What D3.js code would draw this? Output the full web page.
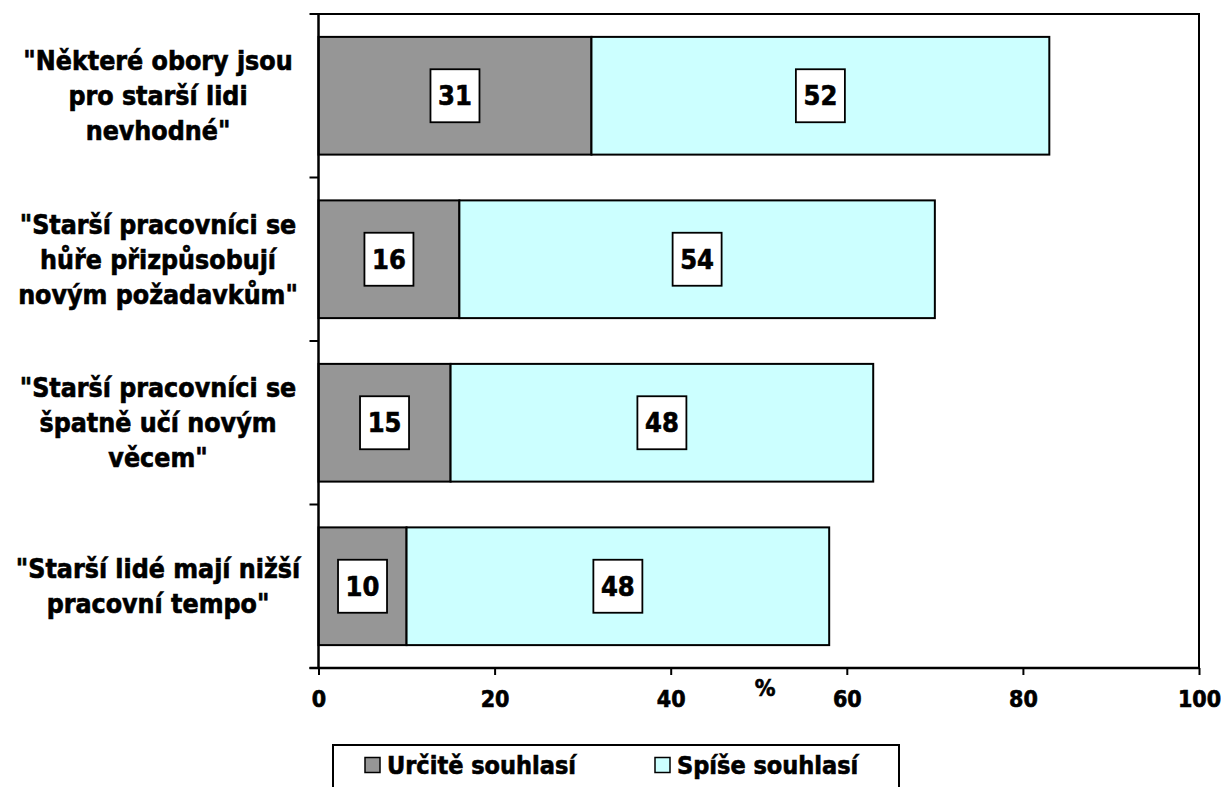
<!DOCTYPE html>
<html>
<head>
<meta charset="utf-8">
<script src="https://cdn.jsdelivr.net/npm/d3@7"></script>
<style>
  html, body { margin: 0; padding: 0; background: #fff; }
  svg text { font-family: "DejaVu Sans Condensed", "DejaVu Sans", sans-serif; font-weight: bold; fill: #000;
             stroke: #000; stroke-width: 0.6px; }
</style>
</head>
<body>
<svg id="chart" width="1221" height="787"></svg>
<script>
// Statements (each wrapped onto lines as shown on the axis)
const categories = [
  ["\"Některé obory jsou", "pro starší lidi", "nevhodné\""],
  ["\"Starší pracovníci se", "hůře přizpůsobují", "novým požadavkům\""],
  ["\"Starší pracovníci se", "špatně učí novým", "věcem\""],
  ["\"Starší lidé mají nižší", "pracovní tempo\""]
];
const seriesNames = ["Určitě souhlasí", "Spíše souhlasí"];
const definitely = [31, 16, 15, 10];
const rather = [52, 54, 48, 48];
const xTicks = [0, 20, 40, 60, 80, 100];
const axisTitle = "%";

const colors = ["#969696", "#CCFFFF"];

const svg = d3.select("#chart");
const pLeft = 318.5, pRight = 1199, pTop = 14, pBottom = 668;

const x = d3.scaleLinear().domain([0, 100]).range([pLeft, pRight]);
const y = d3.scaleBand().domain(d3.range(categories.length))
  .range([pTop, pBottom]).paddingInner(0.28).paddingOuter(0.14);

// stacked rows
const rows = categories.map((c, i) => {
  const a = definitely[i], b = rather[i];
  return [
    { i, s: 0, x0: 0, x1: a, v: a },
    { i, s: 1, x0: a, x1: a + b, v: b }
  ];
}).flat();

// plot frame (top and right)
svg.append("path")
  .attr("d", `M${pLeft},${pTop}H${pRight}V${pBottom}`)
  .attr("fill", "none").attr("stroke", "#000").attr("stroke-width", 2);

// bars
svg.append("g").selectAll("rect").data(rows).join("rect")
  .attr("x", d => x(d.x0))
  .attr("y", d => y(d.i))
  .attr("width", d => x(d.x1) - x(d.x0))
  .attr("height", y.bandwidth())
  .attr("fill", d => colors[d.s])
  .attr("stroke", "#000").attr("stroke-width", 2);

// value labels in white boxes
const lab = svg.append("g").selectAll("g").data(rows).join("g")
  .attr("transform", d => `translate(${(x(d.x0) + x(d.x1)) / 2},${y(d.i) + y.bandwidth() / 2})`);
lab.append("rect")
  .attr("x", -24.5).attr("y", -26.5).attr("width", 49).attr("height", 53)
  .attr("fill", "#fff").attr("stroke", "#000").attr("stroke-width", 1.8);
lab.append("text")
  .attr("text-anchor", "middle").attr("dy", "0.36em")
  .style("font-size", "27px")
  .text(d => d.v);

// x axis
const xAxis = d3.axisBottom(x).tickValues(xTicks).tickSize(7).tickPadding(16).tickFormat(d3.format("d"));
const gx = svg.append("g").attr("transform", `translate(0,${pBottom})`).call(xAxis);
gx.select(".domain").attr("stroke-width", 2.5).attr("d", `M${pLeft - 9},0H${pRight}`);
gx.selectAll(".tick line").attr("stroke-width", 2);
gx.selectAll(".tick text").style("font-size", "23px").attr("font-family", null).attr("fill", "#000");

// y axis: vertical line with ticks on band boundaries
const boundaries = d3.range(categories.length + 1).map(k => pTop + k * y.step());
svg.append("line").attr("x1", pLeft).attr("x2", pLeft).attr("y1", pTop - 1).attr("y2", pBottom)
  .attr("stroke", "#000").attr("stroke-width", 2.5);
svg.append("g").selectAll("line").data(boundaries).join("line")
  .attr("x1", pLeft - 9).attr("x2", pLeft).attr("y1", d => d).attr("y2", d => d)
  .attr("stroke", "#000").attr("stroke-width", 2);

// category labels
const lineH = 35;
svg.append("g").selectAll("text").data(categories).join("text")
  .attr("text-anchor", "middle")
  .style("font-size", "26.5px")
  .attr("transform", (c, i) => `translate(158,${y(i) + y.bandwidth() / 2})`)
  .each(function (c) {
    const t = d3.select(this);
    c.forEach((line, k) => {
      t.append("tspan").attr("x", 0)
        .attr("y", (k - (c.length - 1) / 2) * lineH)
        .attr("dy", "0.36em").text(line);
    });
  });

// axis title
svg.append("text").attr("x", 765).attr("y", 696).attr("text-anchor", "middle")
  .style("font-size", "23px").text(axisTitle);

// legend
const lg = svg.append("g");
lg.append("rect").attr("x", 333).attr("y", 745).attr("width", 566).attr("height", 60)
  .attr("fill", "#fff").attr("stroke", "#000").attr("stroke-width", 2);
const legendX = [365, 655];
const items = lg.selectAll("g.item").data(seriesNames).join("g")
  .attr("transform", (d, i) => `translate(${legendX[i]},765)`);
items.append("rect").attr("x", 0).attr("y", -7.5).attr("width", 15).attr("height", 15)
  .attr("fill", (d, i) => colors[i]).attr("stroke", "#000").attr("stroke-width", 1.5);
items.append("text").attr("x", 22).attr("dy", "0.36em")
  .style("font-size", "25px").text(d => d);
</script>
</body>
</html>
